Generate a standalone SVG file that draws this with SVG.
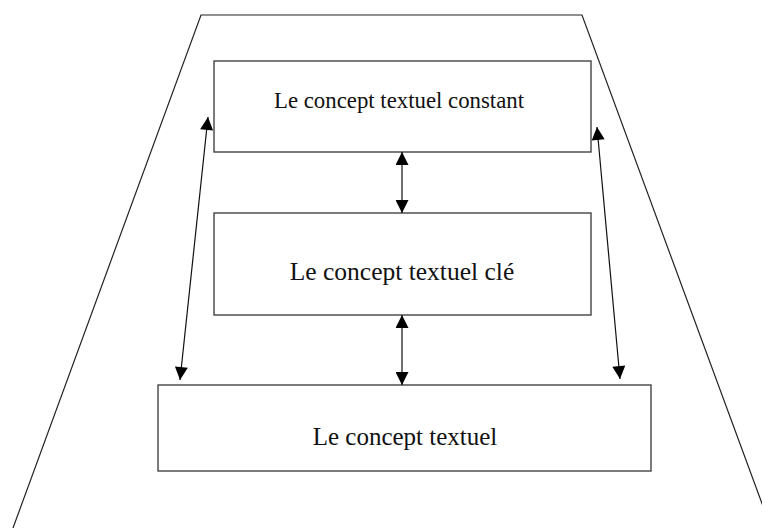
<svg xmlns="http://www.w3.org/2000/svg" width="762" height="528" viewBox="0 0 762 528">
<style>
.box{fill:#fff;stroke:#444;stroke-width:1.4}
.lbl{font-family:"Liberation Serif","Times New Roman",serif;fill:#111;text-anchor:middle}
.con{stroke:#111;stroke-width:1.2;fill:none;marker-start:url(#ah);marker-end:url(#ah)}
.frame{stroke:#222;stroke-width:1.2;fill:none}
</style>
<defs>
<marker id="ah" viewBox="0 0 10 10" refX="10" refY="5" markerUnits="userSpaceOnUse" markerWidth="17" markerHeight="13" orient="auto-start-reverse">
<path d="M0,0 L10,5 L0,10 Z" fill="#000"/>
</marker>
</defs>
<rect width="762" height="528" fill="#fff"/>
<polyline class="frame" points="13,528 201,15 582,15 771,528"/>
<g id="node-constant">
<rect class="box" x="214" y="61" width="377" height="91"/>
<text class="lbl" x="399" y="108" font-size="22.8">Le concept textuel constant</text>
</g>
<g id="node-cle">
<rect class="box" x="214" y="213" width="377" height="102"/>
<text class="lbl" x="402" y="280" font-size="25.5">Le concept textuel clé</text>
</g>
<g id="node-textuel">
<rect class="box" x="158" y="385" width="493" height="86"/>
<text class="lbl" x="405" y="445" font-size="25">Le concept textuel</text>
</g>
<g id="connectors">
<line class="con" x1="402" y1="152" x2="402" y2="213"/>
<line class="con" x1="402" y1="315" x2="402" y2="385"/>
<line class="con" x1="208" y1="117" x2="180" y2="380"/>
<line class="con" x1="597" y1="127" x2="620" y2="379"/>
</g>
</svg>
